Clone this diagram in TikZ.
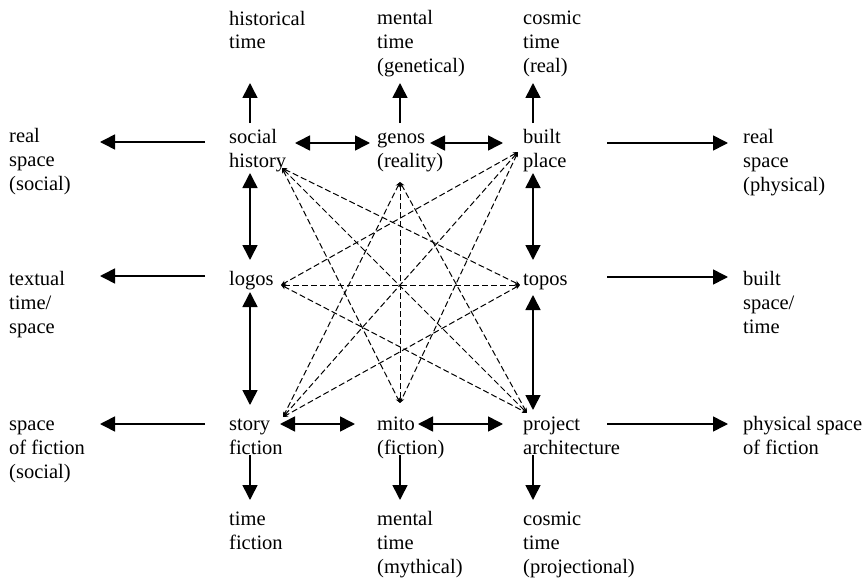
\documentclass[tikz,border=0pt]{standalone}
\usepackage{fontspec}
\setmainfont{Liberation Serif}
\usetikzlibrary{arrows.meta}
\begin{document}
\begin{tikzpicture}[x=1pt,y=-1pt,
  lbl/.style={anchor=base west, align=left, inner sep=0pt, font=\fontsize{20.5}{24}\selectfont},
  sarrow/.style={line width=1.6pt, -{Triangle[length=15pt,width=15pt]}},
  darrow/.style={line width=1.6pt, {Triangle[length=15pt,width=15pt]}-{Triangle[length=15pt,width=15pt]}},
  starline/.style={line width=1pt, dash pattern=on 6pt off 3pt, {Stealth[length=5pt,width=4.5pt]}-{Stealth[length=5pt,width=4.5pt]}}]
\useasboundingbox (0,0) rectangle (868,578);
% labels (positions give the baseline of the last line)
\node[lbl] (hist) at (229,49) {historical\\time};
\node[lbl] (mentg) at (377,73) {mental\\time\\(genetical)};
\node[lbl] (cosr) at (523,73) {cosmic\\time\\(real)};
\node[lbl] (realsoc) at (9,190) {real\\space\\(social)};
\node[lbl] (soc) at (229,167) {social\\history};
\node[lbl] (genos) at (377,167) {genos\\(reality)};
\node[lbl] (built) at (523,167) {built\\place};
\node[lbl] (realphys) at (743,191) {real\\space\\(physical)};
\node[lbl] (textual) at (9,333) {textual\\time/\\space};
\node[lbl] (logos) at (229,285) {logos};
\node[lbl] (topos) at (523,285) {topos};
\node[lbl] (builtsp) at (743,333) {built\\space/\\time};
\node[lbl] (spfic) at (9,478) {space\\of fiction\\(social)};
\node[lbl] (story) at (229,454) {story\\fiction};
\node[lbl] (mito) at (377,454) {mito\\(fiction)};
\node[lbl] (project) at (523,454) {project\\architecture};
\node[lbl] (physfic) at (743,454) {physical space\\of fiction};
\node[lbl] (timefic) at (229,549) {time\\fiction};
\node[lbl] (mentm) at (377,573) {mental\\time\\(mythical)};
\node[lbl] (cosp) at (523,573) {cosmic\\time\\(projectional)};
% arrow end points
\coordinate (c1top) at (250,123); \coordinate (c1tip) at (250,83);
\coordinate (c2top) at (400,123); \coordinate (c2tip) at (400,83);
\coordinate (c3top) at (533,123); \coordinate (c3tip) at (533,83);
\coordinate (c1bot) at (250,455); \coordinate (c1btip) at (250,500);
\coordinate (c2bot) at (400,455); \coordinate (c2btip) at (400,500);
\coordinate (c3bot) at (533,455); \coordinate (c3btip) at (533,500);
\coordinate (c1a) at (250,173); \coordinate (c1b) at (250,260);
\coordinate (c1c) at (250,292); \coordinate (c1d) at (250,405);
\coordinate (c3a) at (533,173); \coordinate (c3b) at (533,260);
\coordinate (c3c) at (533,295); \coordinate (c3d) at (533,410);
\coordinate (r1a) at (295,143); \coordinate (r1b) at (370,143);
\coordinate (r1c) at (430,143); \coordinate (r1d) at (503,143);
\coordinate (r3a) at (280,424); \coordinate (r3b) at (355,424);
\coordinate (r3c) at (418,424); \coordinate (r3d) at (503,424);
\coordinate (l1s) at (205,142); \coordinate (l1e) at (100,142);
\coordinate (l2s) at (205,276); \coordinate (l2e) at (100,276);
\coordinate (l3s) at (205,424); \coordinate (l3e) at (100,424);
\coordinate (q1s) at (607,143); \coordinate (q1e) at (728,143);
\coordinate (q2s) at (607,277); \coordinate (q2e) at (728,277);
\coordinate (q3s) at (607,424); \coordinate (q3e) at (728,424);
% star points
\coordinate (S) at (282,168);
\coordinate (B) at (518,152);
\coordinate (G) at (400,182);
\coordinate (L) at (281,285);
\coordinate (T) at (520,285);
\coordinate (St) at (283,417);
\coordinate (P) at (527,413);
\coordinate (M) at (400,403);
% solid arrows
\draw[sarrow] (c1top) -- (c1tip);
\draw[sarrow] (c2top) -- (c2tip);
\draw[sarrow] (c3top) -- (c3tip);
\draw[sarrow] (c1bot) -- (c1btip);
\draw[sarrow] (c2bot) -- (c2btip);
\draw[sarrow] (c3bot) -- (c3btip);
\draw[darrow] (c1a) -- (c1b);
\draw[darrow] (c1c) -- (c1d);
\draw[darrow] (c3a) -- (c3b);
\draw[darrow] (c3c) -- (c3d);
\draw[darrow] (r1a) -- (r1b);
\draw[darrow] (r1c) -- (r1d);
\draw[darrow] (r3a) -- (r3b);
\draw[darrow] (r3c) -- (r3d);
\draw[sarrow] (l1s) -- (l1e);
\draw[sarrow] (l2s) -- (l2e);
\draw[sarrow] (l3s) -- (l3e);
\draw[sarrow] (q1s) -- (q1e);
\draw[sarrow] (q2s) -- (q2e);
\draw[sarrow] (q3s) -- (q3e);
% dashed star
\draw[starline] (S) -- (T);
\draw[starline] (S) -- (P);
\draw[starline] (S) -- (M);
\draw[starline] (B) -- (L);
\draw[starline] (B) -- (St);
\draw[starline] (B) -- (M);
\draw[starline] (L) -- (T);
\draw[starline] (L) -- (P);
\draw[starline] (G) -- (St);
\draw[starline] (G) -- (P);
\draw[starline] (G) -- (M);
\draw[starline] (T) -- (St);
\end{tikzpicture}
\end{document}
